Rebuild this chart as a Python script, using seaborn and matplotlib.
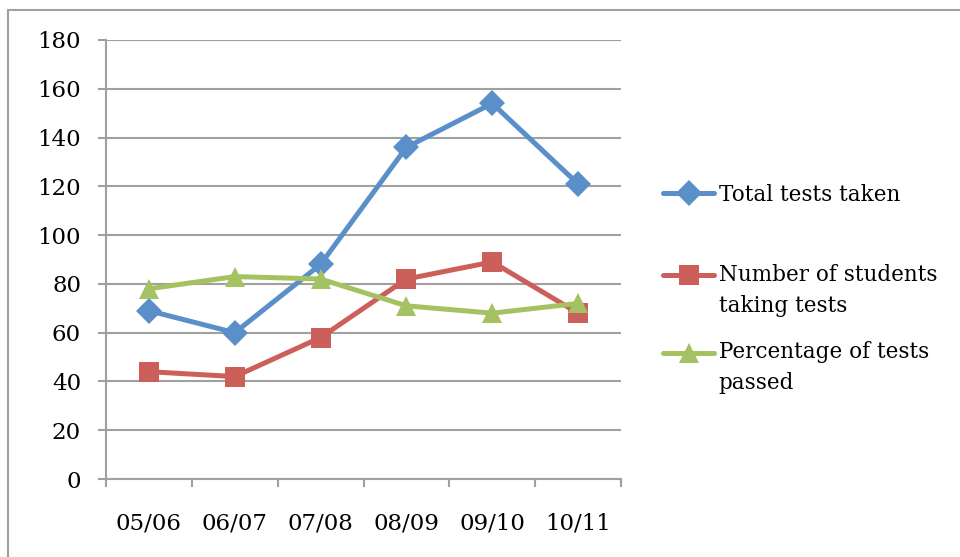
import pandas as pd
import numpy as np
import matplotlib
matplotlib.use("Agg")
import matplotlib.pyplot as plt
import seaborn as sns
from matplotlib.patches import Rectangle
from matplotlib.legend_handler import HandlerLine2D

# data
years = ["05/06", "06/07", "07/08", "08/09", "09/10", "10/11"]
total_tests = [69, 60, 88, 136, 154, 121]
students = [44, 42, 58, 82, 89, 68]
pct_passed = [78, 83, 82, 71, 68, 72]

series_names = ["Total tests taken", "Number of students\ntaking tests", "Percentage of tests\npassed"]
colors = ["#5A8FCA", "#CD5F5A", "#A5C263"]
markers = ["D", "s", "^"]
msizes = [13, 14, 15]

df = pd.DataFrame({
    "year": list(range(len(years))) * 3,
    "value": total_tests + students + pct_passed,
    "series": [series_names[0]] * 6 + [series_names[1]] * 6 + [series_names[2]] * 6,
})


# legend handle lifted up to the first line of a two-line label
class FirstLineHandler(HandlerLine2D):
    def __init__(self, dy, **kw):
        super().__init__(**kw)
        self.dy = dy

    def create_artists(self, legend, orig_handle, xdescent, ydescent, width, height, fontsize, trans):
        arts = super().create_artists(legend, orig_handle, xdescent, ydescent, width, height, fontsize, trans)
        for a in arts:
            a.set_ydata(np.asarray(a.get_ydata()) + self.dy)
        return arts


sns.set_style("white")
plt.rcParams["font.family"] = ["DejaVu Serif"]
plt.rcParams["text.color"] = "black"
plt.rcParams["xtick.color"] = "black"
plt.rcParams["ytick.color"] = "black"

fig = plt.figure(figsize=(9.6, 5.57), dpi=100)
ax = fig.add_axes([106 / 960, 1 - 479 / 557, (621 - 106) / 960, (479 - 40) / 557])

# outer chart border
fig.patches.append(Rectangle((8 / 960, -0.1), 1.2, 1 - 10 / 557 + 0.1, transform=fig.transFigure,
                             fill=False, edgecolor="#a0a0a0", linewidth=1.5, zorder=0))

for name, c, m, ms in zip(series_names, colors, markers, msizes):
    sub = df[df["series"] == name]
    sns.lineplot(data=sub, x="year", y="value", ax=ax, color=c, linewidth=3.6,
                 marker=m, markersize=ms, markeredgewidth=0, label=name, zorder=3)

ax.set_xlim(-0.5, 5.5)
ax.set_ylim(0, 180)
ax.set_yticks(range(0, 181, 20))
ax.set_xticks(range(len(years)))
ax.set_xticklabels(years)
ax.set_xticks(np.arange(-0.5, 6, 1), minor=True)
ax.set_xlabel("")
ax.set_ylabel("")

ax.yaxis.grid(True, color="#a0a0a0", linewidth=1.5)
ax.set_axisbelow(True)
for s in ["top", "right"]:
    ax.spines[s].set_visible(False)
for s in ["left", "bottom"]:
    ax.spines[s].set_color("#a0a0a0")
    ax.spines[s].set_linewidth(1.5)

ax.tick_params(axis="y", which="major", left=True, length=6, width=1.5, color="#a0a0a0",
               labelsize=16.5, labelcolor="black", pad=12, direction="out")
ax.tick_params(axis="x", which="major", bottom=False, length=0, labelsize=16.5,
               labelcolor="black", pad=24)
ax.tick_params(axis="x", which="minor", bottom=True, length=6, width=1.5, color="#a0a0a0",
               direction="out")

# legend in two blocks, like the Excel layout
handles, labels = ax.get_legend_handles_labels()
ax.get_legend().remove()
leg_kw = dict(loc="center left", bbox_transform=fig.transFigure, frameon=False, fontsize=15.5,
              borderpad=0, handlelength=2.4, handletextpad=0.2, labelspacing=1.15)
leg1 = ax.legend(handles[:1], labels[:1], bbox_to_anchor=(652 / 960, 1 - 195 / 557), **leg_kw)
ax.add_artist(leg1)
leg2 = ax.legend(handles[1:], labels[1:], bbox_to_anchor=(652 / 960, 1 - 329 / 557),
                 handler_map={h: FirstLineHandler(11.5) for h in handles[1:]}, **leg_kw)
for leg in (leg1, leg2):
    for t in leg.get_texts():
        t.set_linespacing(1.5)
        t.set_color("black")

fig.savefig("out.png", dpi=100)
